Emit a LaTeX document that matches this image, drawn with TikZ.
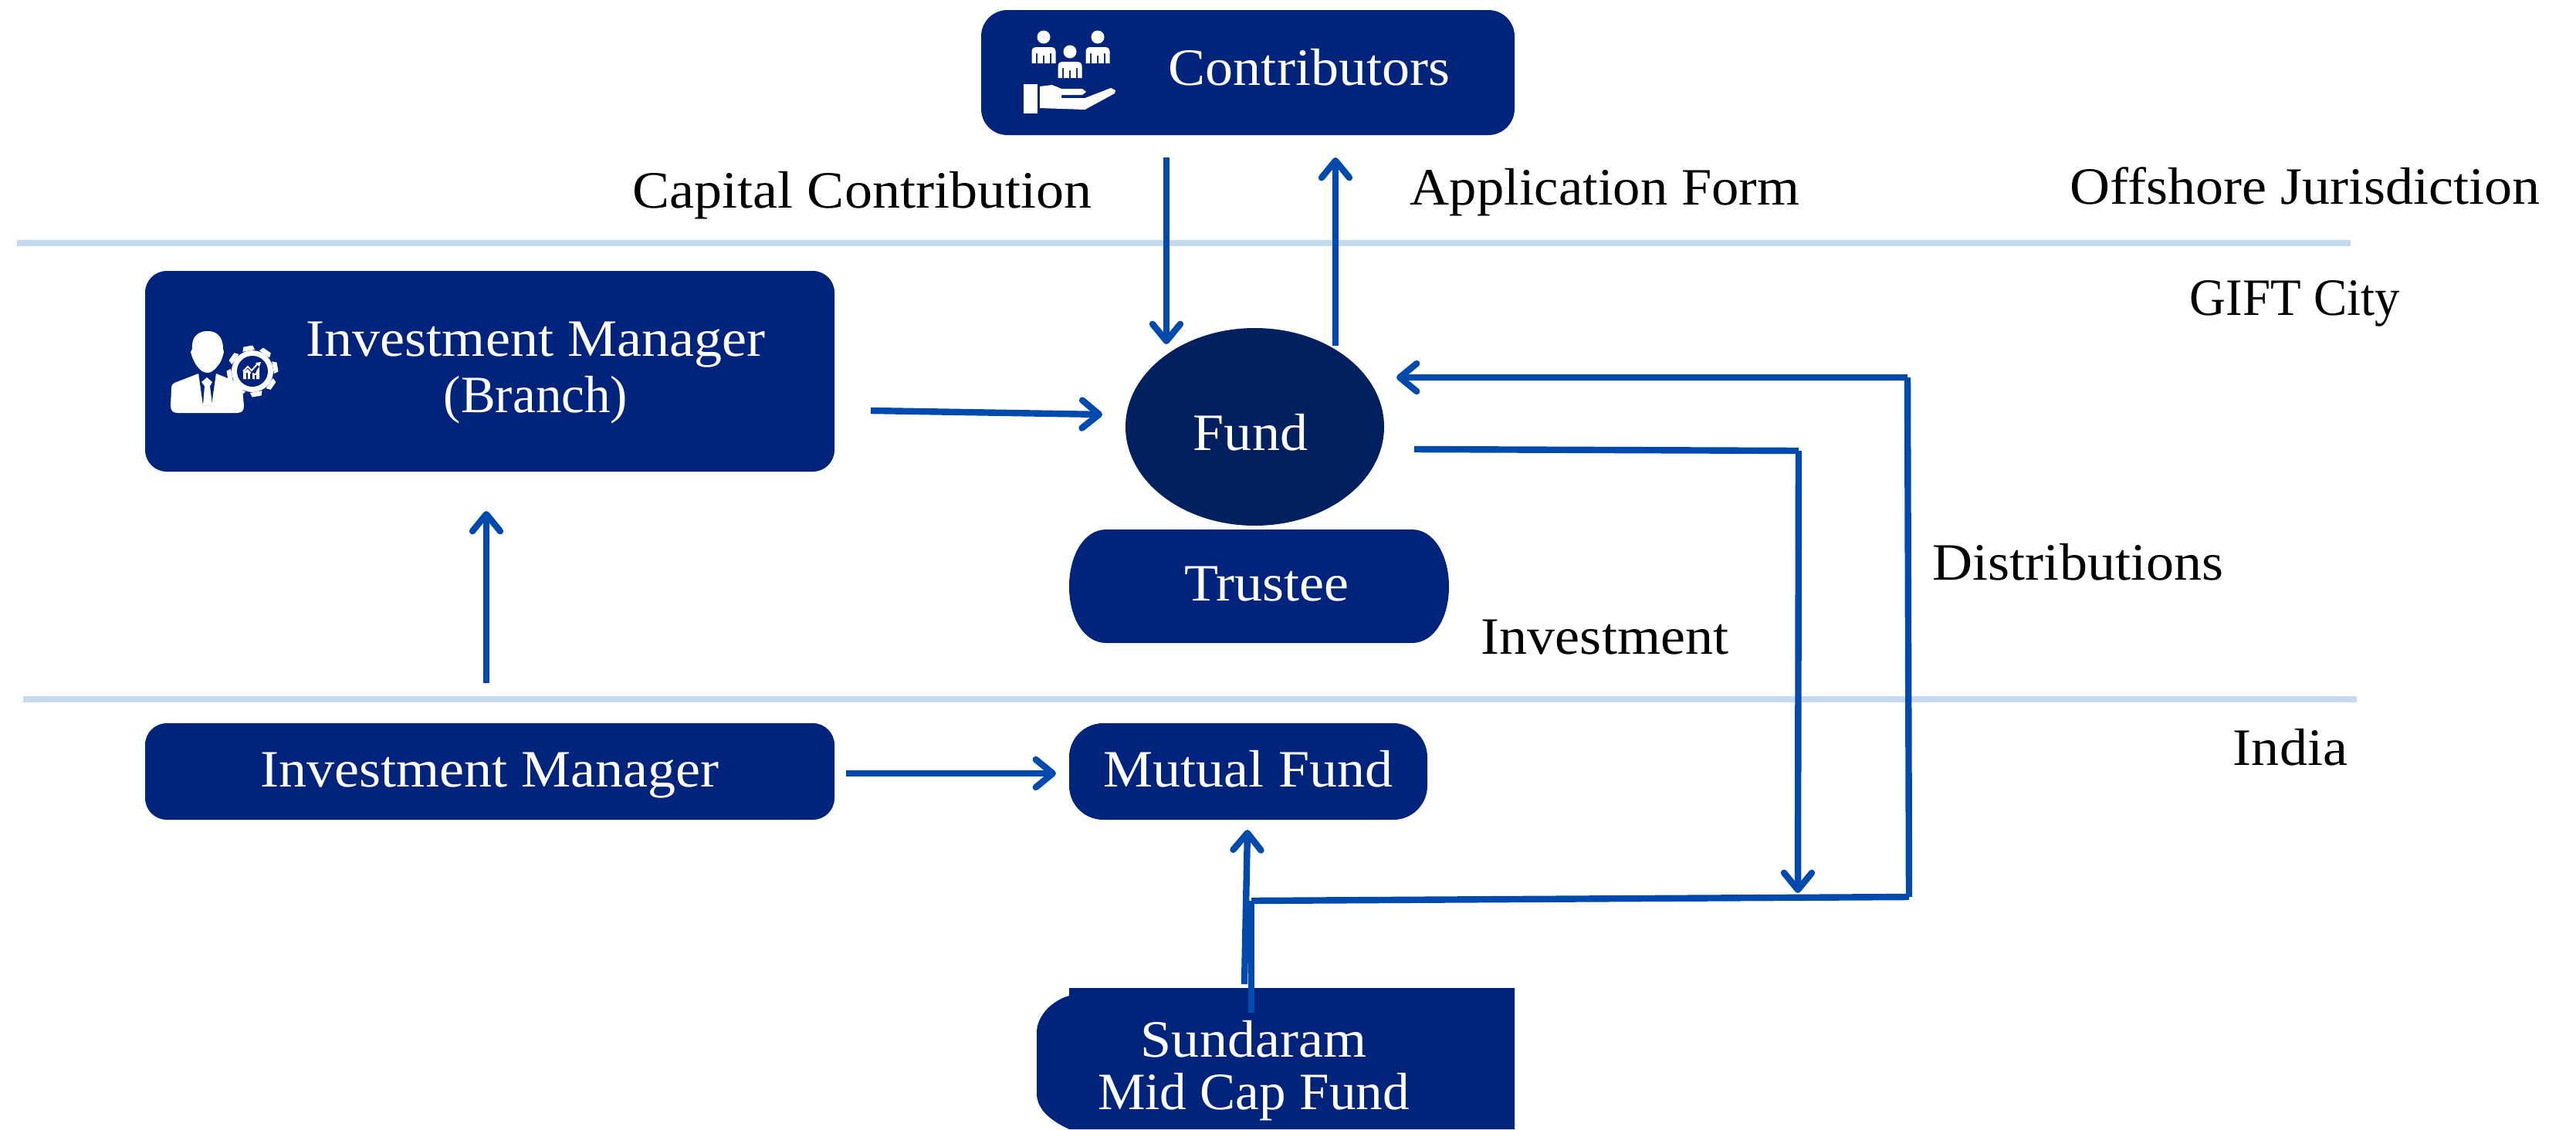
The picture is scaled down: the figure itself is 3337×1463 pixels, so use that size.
\documentclass[tikz,border=0pt]{standalone}
\usepackage{fontspec}
\setmainfont{Liberation Serif}[FakeStretch=1.06]
\usetikzlibrary{arrows.meta,shapes.geometric}
\definecolor{navy}{HTML}{00237B}
\definecolor{deep}{HTML}{012060}
\definecolor{flow}{HTML}{004AAD}
\definecolor{rule}{HTML}{C5D9F1}
\tikzset{
  boxnode/.style={fill=navy,draw=none,inner sep=0pt,text=white,font=\fontsize{34}{36.5}\selectfont,align=center,text height=26pt,text depth=6pt},
  txt/.style={inner sep=0pt,text=white,font=\fontsize{34}{36.5}\selectfont,align=center},
  lbl/.style={inner sep=0pt,text=black,font=\fontsize{34}{36.5}\selectfont,align=center},
  flowline/.style={draw=flow,line width=4.2pt},
  arrowline/.style={flowline,-{Straight Barb[length=11pt,width=18pt,round]}},
  rulerline/.style={draw=rule,line width=4pt},
  icon/.style={fill=white,draw=none}
}
\begin{document}
\begin{tikzpicture}[x=0.5pt,y=-0.5pt]
\useasboundingbox (0,0) rectangle (3337,1463);
% separators
\coordinate (r1a) at (22,315); \coordinate (r1b) at (3045,315);
\coordinate (r2a) at (30,906); \coordinate (r2b) at (3053,906);
\draw[rulerline] (r1a) -- (r1b);
\draw[rulerline] (r2a) -- (r2b);
% boxes
\node[boxnode,minimum width=345.5pt,minimum height=81pt,rounded corners=17pt] (contrib) at (1616.5,94) {};
\node[txt] (contribT) at (1696,87) {Contributors};
\node[boxnode,minimum width=446.5pt,minimum height=130pt,rounded corners=14pt] (imb) at (634.5,481) {};
\node[txt] (imbT) at (694,483) {Investment Manager\\\scalebox{0.93}[1]{(Branch)}};
\node[boxnode,minimum width=446.5pt,minimum height=62.5pt,rounded corners=14pt] (im) at (634.5,999.5) {Investment Manager};
\node[boxnode,minimum width=232pt,minimum height=62.5pt,rounded corners=22pt] (mf) at (1617,999.5) {Mutual Fund};
\node[fill=deep,ellipse,inner sep=0pt,minimum width=167.5pt,minimum height=128pt] (fund) at (1625.5,553) {};
\node[txt] (fundT) at (1620,560) {Fund};
% trustee
\fill[navy] (1433,686) -- (1829,686) .. controls (1858,686) and (1877,720) .. (1877,760)
  .. controls (1877,800) and (1858,833) .. (1829,833) -- (1433,833)
  .. controls (1404,833) and (1385,800) .. (1385,760) .. controls (1385,720) and (1404,686) .. (1433,686) -- cycle;
\node[txt] (trusteeT) at (1641,757) {Trustee};
% sundaram
\fill[navy] (1385,1280) -- (1962,1280) -- (1962,1463) -- (1385,1463) -- (1381,1461)
  .. controls (1358,1450) and (1343,1435) .. (1343,1417) -- (1343,1337)
  .. controls (1343,1320) and (1358,1298) .. (1385,1290) -- cycle;
\node[txt,font=\fontsize{34}{34}\selectfont] (sunT) at (1624,1387) {Sundaram\\\scalebox{0.96}[1]{Mid Cap Fund}};
% labels
\node[lbl] (l1) at (1117,253) {Capital Contribution};
\node[lbl] (l2) at (2079,249) {\scalebox{0.98}[1]{Application Form}};
\node[lbl] (l3) at (2986,241) {Offshore Jurisdiction};
\node[lbl] (l4) at (2973,393) {\scalebox{0.9}[1]{GIFT City}};
\node[lbl] (l5) at (2692,728) {Distributions};
\node[lbl] (l6) at (2079,826) {Investment};
\node[lbl] (l7) at (2967,968) {India};
% connector points
\coordinate (c1a) at (1511,204); \coordinate (c1b) at (1511,446);
\coordinate (c2a) at (1730,448); \coordinate (c2b) at (1730,204);
\coordinate (c3a) at (1128,532); \coordinate (c3b) at (1428,537);
\coordinate (c4a) at (1832,582); \coordinate (c4b) at (2330,584); \coordinate (c4c) at (2329,1157);
\coordinate (c5a) at (2473,1162); \coordinate (c5b) at (2471,489); \coordinate (c5c) at (1809,489);
\coordinate (c6a) at (1621,1167); \coordinate (c6b) at (1621,1312);
\coordinate (c7a) at (1612,1275); \coordinate (c7b) at (1616,1075);
\coordinate (c8a) at (1096,1002); \coordinate (c8b) at (1368,1002);
\coordinate (c9a) at (630,885); \coordinate (c9b) at (630,662);
\draw[arrowline] (c1a) -- (c1b);
\draw[arrowline] (c2a) -- (c2b);
\draw[arrowline] (c3a) -- (c3b);
\draw[flowline] (c4a) -- (c4b);
\draw[arrowline] (c4b) -- (c4c);
\draw[flowline] (c6a) -- (c5a);
\draw[flowline] (c5a) -- (c5b);
\draw[arrowline] (c5b) -- (c5c);
\draw[flowline] (c6a) -- (c6b);
\draw[arrowline] (c7a) -- (c7b);
\draw[arrowline] (c8a) -- (c8b);
\draw[arrowline] (c9a) -- (c9b);
% contributors icon
\foreach \hx/\hy in {1352/48,1386/67,1422/48}{
  \fill[icon] (\hx,\hy) circle[radius=8.5];
  \fill[icon] (\hx-15.5,\hy+34) [rounded corners=2.5pt] -- (\hx-15.5,\hy+13) -- (\hx+15.5,\hy+13) [sharp corners] -- (\hx+15.5,\hy+34) -- (\hx+10,\hy+34) -- (\hx+10,\hy+21) -- (\hx+8,\hy+21) -- (\hx+8,\hy+34) -- (\hx+1,\hy+34) -- (\hx+1,\hy+24) -- (\hx-1,\hy+24) -- (\hx-1,\hy+34) -- (\hx-8,\hy+34) -- (\hx-8,\hy+21) -- (\hx-10,\hy+21) -- (\hx-10,\hy+34) -- cycle;
}
\fill[icon] (1326,109) rectangle (1344,147);
\fill[icon] (1347,112) -- (1363,110) -- (1375,115) -- (1402,115) -- (1407,119) -- (1402,123) -- (1375,123) -- (1375,127) -- (1405.5,127) -- (1439,114) -- (1445,117) -- (1444,121) -- (1405.5,142) -- (1347,140) -- cycle;
% manager icon
\fill[icon] (269,429) .. controls (284,429) and (289,440) .. (289,452) -- (290,456) .. controls (288,464) and (286,470) .. (282,474) .. controls (277,481) and (272,483) .. (269,483) .. controls (264,483) and (259,480) .. (255,474) .. controls (252,470) and (249,464) .. (247,456) -- (249,452) .. controls (248,440) and (253,429) .. (269,429) -- cycle;
\fill[icon] (257,484) -- (226,496) .. controls (223,497) and (222,500) .. (222,504) -- (221,525) .. controls (221,532) and (224,535) .. (230,535) -- (307,535) .. controls (313,535) and (316,532) .. (316,526) -- (314,503) .. controls (314,500) and (313,497) .. (310,496) -- (280,484) -- cycle;
\fill[navy] (257,483) -- (263,525) -- (274,525) -- (280,483) -- cycle;
\fill[icon] (268,489) -- (275,495) -- (272,500) -- (275,525) -- (263,525) -- (265,500) -- (261,495) -- cycle;
% gear
\fill[icon] (327,481) circle[radius=27];
\foreach \a in {0,45,...,315}{
  \fill[icon,shift={(327,481)},rotate=\a+10] (27,-8) -- (33,-6) -- (33,6) -- (27,8) -- cycle;
}
\fill[navy] (327,481) circle[radius=20];
\fill[icon] (315,491) -- (315,482) -- (321,478) -- (325,482) -- (325,491) -- cycle;
\fill[navy] (319,491) rectangle (320.5,483);
\fill[navy] (324,491) rectangle (325.5,484);
\fill[icon] (327,491) -- (327,483) -- (331,484) -- (333,479) -- (336,475) -- (336,491) -- cycle;
\fill[navy] (330,491) rectangle (332,486);
\draw[white,line width=1pt] (315,481) -- (321,475) -- (326,480) -- (334,471);
\fill[icon] (338,469) -- (331,470) -- (336,475) -- cycle;
\end{tikzpicture}
\end{document}
